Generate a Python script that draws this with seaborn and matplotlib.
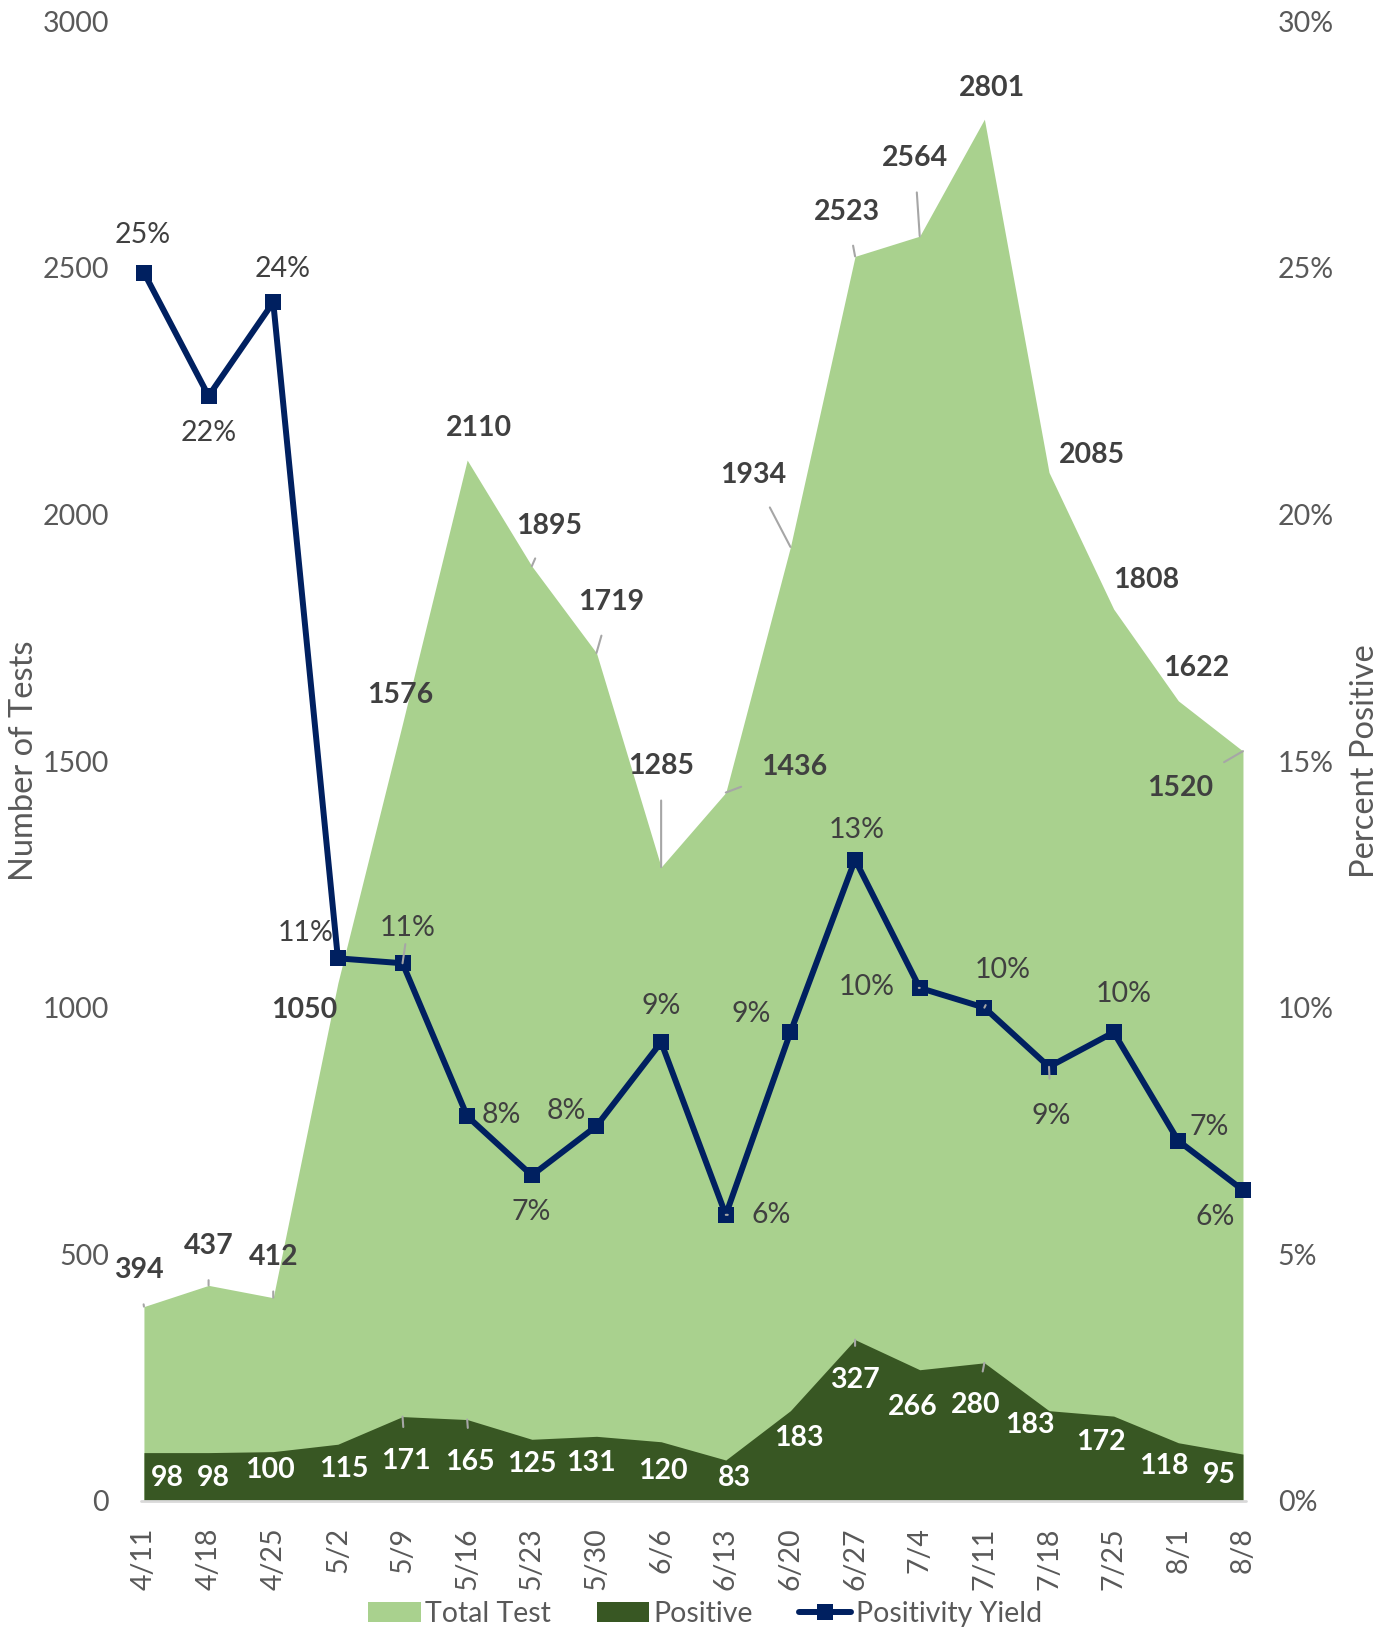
import numpy as np
import pandas as pd
import matplotlib
matplotlib.use("Agg")
import matplotlib.pyplot as plt
import seaborn as sns

weeks = ["4/11", "4/18", "4/25", "5/2", "5/9", "5/16", "5/23", "5/30", "6/6",
         "6/13", "6/20", "6/27", "7/4", "7/11", "7/18", "7/25", "8/1", "8/8"]
total_tests = [394, 437, 412, 1050, 1576, 2110, 1895, 1719, 1285,
               1436, 1934, 2523, 2564, 2801, 2085, 1808, 1622, 1520]
positives = [98, 98, 100, 115, 171, 165, 125, 131, 120,
             83, 183, 327, 266, 280, 183, 172, 118, 95]
pct_labels = ["25%", "22%", "24%", "11%", "11%", "8%", "7%", "8%", "9%",
              "6%", "9%", "13%", "10%", "10%", "9%", "10%", "7%", "6%"]
positivity = [24.9, 22.4, 24.3, 11.0, 10.9, 7.8, 6.6, 7.6, 9.3,
              5.8, 9.5, 13.0, 10.4, 10.0, 8.8, 9.5, 7.3, 6.3]

df = pd.DataFrame({"week": weeks, "total": total_tests, "pos": positives,
                   "pct": positivity})
df["x"] = np.arange(len(df))

# label offsets (dx, dy, leader line), measured on a 0.96-scale view
S = 1.04
total_off = [(-5, 35, True), (0, 38, True), (0, 39, True), (-32, -26, False),
             (-2, 27, False), (11, 31, False), (17, 39, True), (14, 49, True),
             (0, 97, True), (66, 25, True), (-36, 69, True), (-8, 43, True),
             (-5, 75, True), (7, 30, False), (41, 17, False), (31, 28, False),
             (17, 32, False), (-60, -35, True)]
pos_off = [(23, -24, False), (5, -24, False), (-3, -18, False), (6, -24, False),
           (3, -43, True), (3, -41, True), (0, -24, False), (-5, -26, False),
           (2, -28, False), (8, -17, False), (8, -26, False), (0, -39, True),
           (-7, -36, False), (-8, -41, True), (-18, -14, False), (-12, -25, False),
           (-14, -22, False), (-23, -20, False)]
pct_off = [(-1, 36, False), (0, -36, False), (9, 32, False), (-31, 24, False),
           (5, 34, True), (33, 1, False), (-1, -35, False), (-29, 14, False),
           (0, 35, False), (44, 0, True), (-38, 18, False), (2, 29, False),
           (-51, 1, True), (18, 36, True), (2, -47, True), (10, 37, False),
           (30, 13, False), (-27, -26, False)]

light_green = "#A9D18E"
dark_green = "#385723"
navy = "#002060"
label_col = "#404040"
tick_col = "#595959"
lead_col = "#A6A6A6"
fs = 20.5

sns.set_theme(style="white")
plt.rcParams["font.family"] = ["Lato", "DejaVu Sans"]

fig = plt.figure(figsize=(13.84, 16.32), dpi=100)
ax = fig.add_axes([0.1040, 0.0803, 0.7941, 0.9068])
ax2 = ax.twinx()

ax.fill_between(df["x"], df["total"], color=light_green, lw=0, label="Total Test")
ax.fill_between(df["x"], df["pos"], color=dark_green, lw=0, label="Positive")
ax.axhline(0, xmin=-0.003, xmax=1.003, color="#D9D9D9", lw=2, clip_on=False)

sns.lineplot(data=df, x="x", y="pct", ax=ax2, color=navy, lw=4.3,
             marker="s", markersize=11, markeredgewidth=0,
             label="Positivity Yield", legend=False, clip_on=False)

ax.set_xlim(0, 17)
ax.set_ylim(0, 3000)
ax2.set_ylim(0, 30)
ax.set_yticks(range(0, 3001, 500))
ax2.set_yticks(range(0, 31, 5))
ax2.set_yticklabels([f"{v}%" for v in range(0, 31, 5)])
ax.set_xticks(df["x"])
ax.set_xticklabels(weeks, rotation=90)

for a in (ax, ax2):
    for s in a.spines.values():
        s.set_visible(False)
    a.tick_params(length=0, labelsize=fs, colors=tick_col)
ax.tick_params(axis="y", pad=25)
ax2.tick_params(axis="y", pad=25)
ax.tick_params(axis="x", pad=19)
ax.set_xlabel("")
ax2.set_xlabel("")
ax.set_ylabel("Number of Tests", fontsize=23.5, color=tick_col, labelpad=3)
ax2.set_ylabel("Percent Positive", fontsize=23.5, color=tick_col, labelpad=12)
ax.grid(False)
ax2.grid(False)


def leader(shrink_a):
    return dict(arrowstyle="-", color=lead_col, lw=1.5, shrinkA=shrink_a, shrinkB=0)


for i, row in df.iterrows():
    dx, dy, lead = total_off[i]
    ax.annotate(str(row["total"]), (row["x"], row["total"]), xytext=(dx * S, dy * S),
                textcoords="offset pixels", ha="center", va="center",
                fontsize=fs, fontweight="bold", color=label_col,
                arrowprops=leader(13) if lead else None, annotation_clip=False)
    dx, dy, lead = pos_off[i]
    ax.annotate(str(row["pos"]), (row["x"], row["pos"]), xytext=(dx * S, dy * S),
                textcoords="offset pixels", ha="center", va="center",
                fontsize=fs, fontweight="bold", color="white",
                arrowprops=leader(13) if lead else None, annotation_clip=False)
    dx, dy, lead = pct_off[i]
    ax2.annotate(pct_labels[i], (row["x"], row["pct"]), xytext=(dx * S, dy * S),
                 textcoords="offset pixels", ha="center", va="center",
                 fontsize=fs, color=label_col,
                 arrowprops=leader(15) if lead else None, annotation_clip=False)

h1, l1 = ax.get_legend_handles_labels()
h2, l2 = ax2.get_legend_handles_labels()
fig.legend(h1 + h2, l1 + l2, loc="center", ncol=3,
           bbox_to_anchor=(705 / 1384, 1 - 1614 / 1632), frameon=False,
           fontsize=fs, labelcolor=tick_col, handlelength=1.85,
           handletextpad=0.15, columnspacing=1.6)

fig.savefig("out.png", dpi=100)
